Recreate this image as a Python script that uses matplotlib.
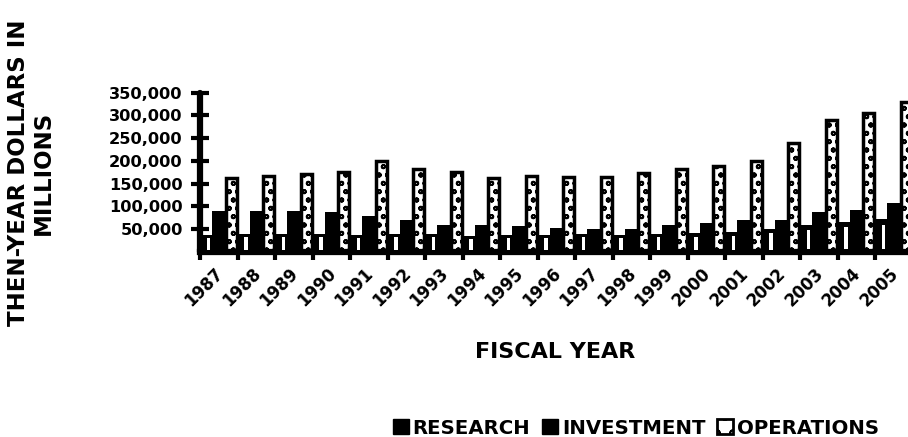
import matplotlib
matplotlib.use("Agg")
import matplotlib.pyplot as plt
from matplotlib.patches import Patch
import numpy as np

plt.rcParams['font.family'] = ['DejaVu Sans']
plt.rcParams['font.weight'] = 'bold'
plt.rcParams['hatch.linewidth'] = 1.3

years = ['1987', '1988', '1989', '1990', '1991', '1992', '1993', '1994', '1995', '1996',
         '1997', '1998', '1999', '2000', '2001', '2002', '2003', '2004', '2005']
research = [37000, 40000, 40000, 39000, 37000, 40000, 39000, 36000, 37000, 37000,
            39000, 38000, 39000, 41000, 43000, 50000, 60000, 67000, 72000]
investment = [91000, 90000, 89000, 88000, 79000, 70000, 60000, 59000, 57000, 53000,
              51000, 51000, 59000, 63000, 70000, 70000, 87000, 92000, 108000]
operations = [162000, 167000, 171000, 175000, 201000, 183000, 176000, 162000, 167000, 164500,
              164500, 173000, 182000, 190000, 200000, 240000, 291000, 305000, 330000]
yticks = [50000, 100000, 150000, 200000, 250000, 300000, 350000]
ytick_labels = ['50,000', '100,000', '150,000', '200,000', '250,000', '300,000', '350,000']

W, H = 908, 437
fig = plt.figure(figsize=(W / 100, H / 100), dpi=100)
ax = fig.add_axes([200 / W, 1 - 252 / H, (W - 200) / W, (252 - 92.7) / H])

n = len(years)
x = np.arange(n)
bw = 0.333
res = np.array(research)
ax.bar(x + bw * 0.5, research, width=bw, color='black', linewidth=0, zorder=2)
# white stripe inside research bars
ax.bar(x + bw * 0.68, res * 0.72, bottom=res * 0.1,
       width=bw * 0.25, color='white', linewidth=0, zorder=3)
ax.bar(x + bw * 1.5, investment, width=bw, color='black', linewidth=0, zorder=2)
ax.bar(x + bw * 2.5, operations, width=bw * 0.88, facecolor='white', edgecolor='black',
       linewidth=2.5, hatch='oo', zorder=2)

ax.set_xlim(0, (W - 200) / 37.5)
ax.set_ylim(0, 350000)
ax.set_yticks(yticks)
ax.set_yticklabels(ytick_labels, fontsize=11.7, fontweight='bold')
ax.tick_params(axis='y', direction='inout', length=13, width=3, pad=6)
ax.set_xticks(x)
ax.set_xticklabels([])
ax.tick_params(axis='x', direction='out', length=6, width=3)
for s in ['top', 'right']:
    ax.spines[s].set_visible(False)
for s in ['left', 'bottom']:
    ax.spines[s].set_linewidth(4.5)
ax.spines['left'].set_capstyle('round')

for i, lab in enumerate(years):
    ax.text(i + 0.72, -0.08, lab, transform=ax.get_xaxis_transform(), rotation=45,
            ha='right', va='top', fontsize=12, fontweight='bold')

fig.text(555 / W, 1 - 352 / H, 'FISCAL YEAR', ha='center', va='center', fontsize=16,
         fontweight='bold')
fig.text(31 / W, 1 - 173 / H, 'THEN-YEAR DOLLARS IN\nMILLIONS', ha='center', va='center',
         rotation=90, fontsize=16.5, fontweight='bold', linespacing=1.1)

handles = [Patch(facecolor='black', edgecolor='black'),
           Patch(facecolor='black', edgecolor='black'),
           Patch(facecolor='white', edgecolor='black', linewidth=2, hatch='o')]
fig.legend(handles, ['RESEARCH', 'INVESTMENT', 'OPERATIONS'], loc='center',
           bbox_to_anchor=(636 / W, 1 - 428 / H), ncol=3, frameon=False,
           prop={'weight': 'bold', 'size': 14.2}, handlelength=0.8, handleheight=0.8,
           handletextpad=0.2, columnspacing=0.6)

fig.savefig('out.png', dpi=100)
